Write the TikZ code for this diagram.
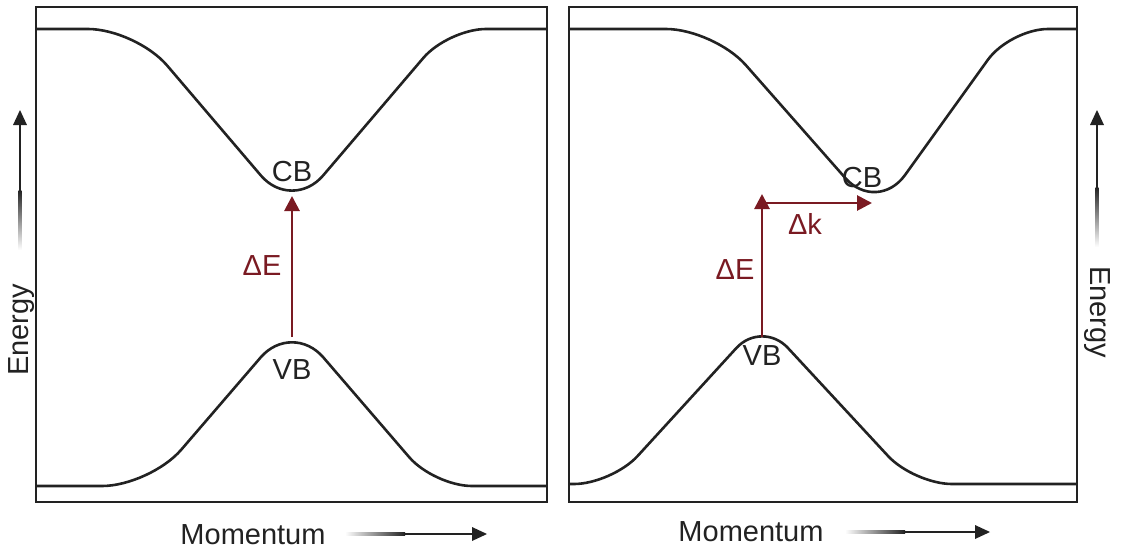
\documentclass[tikz,border=0pt]{standalone}
\usepackage{fontspec}
\setmainfont{Liberation Sans}
\usetikzlibrary{arrows.meta}
\definecolor{ink}{HTML}{222222}
\definecolor{dred}{HTML}{7A1A22}
\begin{document}
\begin{tikzpicture}[x=1pt,y=-1pt,
  frame/.style={draw=ink, line width=2.6pt},
  band/.style={draw=ink, line width=2.6pt},
  lbl/.style={font=\fontsize{29}{32}\selectfont, text=ink, inner sep=0pt},
  rlbl/.style={font=\fontsize{29}{32}\selectfont, text=dred, inner sep=0pt},
  trans/.style={draw=dred, line width=2.8pt, -{Triangle[width=15pt,length=15pt]}},
]
\useasboundingbox (0,0) rectangle (1122,552);

% frames
\draw[frame] (36,7) rectangle (547,502);
\draw[frame] (569,7) rectangle (1077,502);

% left panel bands
\draw[band] (36,29) [rounded corners=48pt] -- (136,29) -- (292,212) [rounded corners=38pt] -- (448,29) [rounded corners=48pt] -- (547,29);
\draw[band] (36,486) [rounded corners=48pt] -- (150,486) -- (292,321) [rounded corners=38pt] -- (434,486) [rounded corners=48pt] -- (547,486);

% right panel bands
\draw[band] (569,29) [rounded corners=48pt] -- (714,29) -- (877,214) [rounded corners=38pt] -- (1010,29) [rounded corners=48pt] -- (1077,29);
\draw[band] (569,484) [rounded corners=38pt] -- (612,484) -- (762,320) [rounded corners=38pt] -- (914,484) [rounded corners=48pt] -- (1077,484);

% left transition
\coordinate (vbL) at (292,337);
\coordinate (cbL) at (292,196);
\draw[trans] (vbL) -- (cbL);
\node[lbl] (CBL) at (292,172) {CB};
\node[lbl] (VBL) at (292,370) {VB};
\node[rlbl] (dEL) at (262,266) {ΔE};

% right transition
\coordinate (vbR) at (762,337);
\coordinate (topR) at (762,194);
\coordinate (kstart) at (761,203);
\coordinate (cbR) at (872,203);
\draw[trans] (vbR) -- (topR);
\draw[trans] (kstart) -- (cbR);
\node[lbl] (CBR) at (862,178) {CB};
\node[lbl] (VBR) at (762,356) {VB};
\node[rlbl] (dER) at (735,270) {ΔE};
\node[rlbl] (dk) at (805,224) {Δk};

% axis labels
\node[lbl] (momL) at (253,535) {Momentum};
\node[lbl] (momR) at (751,532) {Momentum};
\node[lbl, rotate=90, anchor=base] (enL) at (28,330) {Energy};
\node[lbl, rotate=-90, anchor=base] (enR) at (1090,312) {Energy};

% faded axis arrows: left momentum
\shade[left color=white, right color=ink] (345,532.7) rectangle (405,535.3);
\fill[ink] (404,532.7) rectangle (474,535.3);
\fill[ink] (487,534) -- (472,527) -- (472,541) -- cycle;
% right momentum
\shade[left color=white, right color=ink] (845,530.7) rectangle (905,533.3);
\fill[ink] (904,530.7) rectangle (977,533.3);
\fill[ink] (990,532) -- (975,525) -- (975,539) -- cycle;
% left energy
\shade[bottom color=white, top color=ink] (18.7,250) rectangle (21.3,190);
\fill[ink] (18.7,191) rectangle (21.3,123);
\fill[ink] (20,110) -- (13,125) -- (27,125) -- cycle;
% right energy
\shade[bottom color=white, top color=ink] (1095.7,247) rectangle (1098.3,187);
\fill[ink] (1095.7,188) rectangle (1098.3,123);
\fill[ink] (1097,110) -- (1090,125) -- (1104,125) -- cycle;
\end{tikzpicture}
\end{document}
